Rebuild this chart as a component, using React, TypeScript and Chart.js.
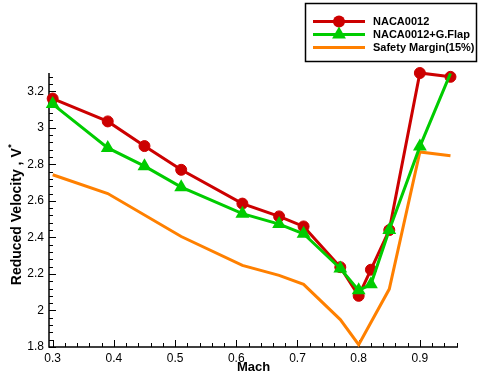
import React, { useEffect, useRef } from 'react';
import { Chart, registerables } from 'chart.js';

Chart.register(...registerables);

// ---- data ----
const machValues = [0.3, 0.39, 0.45, 0.51, 0.61, 0.67, 0.71, 0.77, 0.8, 0.82, 0.85, 0.9, 0.95];
const naca0012 = [3.16, 3.035, 2.9, 2.77, 2.585, 2.515, 2.46, 2.237, 2.08, 2.223, 2.44, 3.3, 3.279];
const nacaFlap = [3.13, 2.89, 2.79, 2.675, 2.53, 2.473, 2.42, 2.23, 2.11, 2.143, 2.44, 2.897, 3.298];
const safetyMach = [0.3, 0.39, 0.51, 0.61, 0.67, 0.71, 0.77, 0.8, 0.85, 0.9, 0.95];
const safetyMargin = [2.743, 2.64, 2.405, 2.247, 2.192, 2.143, 1.95, 1.813, 2.117, 2.868, 2.847];

const seriesNames = ['NACA0012', 'NACA0012+G.Flap', 'Safety Margin(15%)'];
const xTickLabels = [0.3, 0.4, 0.5, 0.6, 0.7, 0.8, 0.9];
const yTickLabels = [1.8, 2, 2.2, 2.4, 2.6, 2.8, 3, 3.2];
const xTitle = 'Mach';
const yTitle = 'Reduced Velocity , V';

const RED = '#cc0000';
const GREEN = '#00cc00';
const ORANGE = '#ff8000';
const FONT = '"Liberation Sans", Arial, Helvetica, sans-serif';

const decorPlugin = {
  id: 'decor',
  beforeDatasetsDraw(chart: any) {
    const ctx = chart.ctx;
    const { left, right, top, bottom } = chart.chartArea;
    const xs = chart.scales.x;
    const ys = chart.scales.y;
    ctx.save();
    ctx.strokeStyle = '#000';
    ctx.lineWidth = 1;
    for (let i = 0; ; i++) {
      const v = 0.3 + i * 0.02;
      if (v > xs.max + 1e-9) break;
      const px = Math.round(xs.getPixelForValue(v)) + 0.5;
      const major = xTickLabels.some((t) => Math.abs(t - v) < 1e-6);
      const len = major ? 7 : 4;
      ctx.beginPath();
      ctx.moveTo(px, bottom);
      ctx.lineTo(px, bottom - len);
      ctx.stroke();
    }
    for (let i = 0; ; i++) {
      const v = 1.8 + i * 0.04;
      if (v > ys.max + 1e-9) break;
      const py = Math.round(ys.getPixelForValue(v)) + 0.5;
      const major = yTickLabels.some((t) => Math.abs(t - v) < 1e-6);
      const len = major ? 7 : 4;
      ctx.beginPath();
      ctx.moveTo(left, py);
      ctx.lineTo(left + len, py);
      ctx.stroke();
    }
    ctx.lineWidth = 1.5;
    ctx.beginPath();
    ctx.moveTo(left, top);
    ctx.lineTo(left, bottom);
    ctx.lineTo(right, bottom);
    ctx.stroke();
    ctx.restore();
  },
  afterDraw(chart: any) {
    const ctx = chart.ctx;
    const { left, right } = chart.chartArea;
    ctx.save();
    ctx.fillStyle = '#000';
    ctx.font = 'bold 13px ' + FONT;
    ctx.textAlign = 'center';
    ctx.textBaseline = 'middle';
    ctx.fillText(xTitle, (left + right) / 2, 367);

    ctx.save();
    ctx.translate(17, 215);
    ctx.rotate(-Math.PI / 2);
    ctx.font = 'bold 14px ' + FONT;
    const w = ctx.measureText(yTitle).width;
    ctx.font = 'bold 9px ' + FONT;
    const sw = ctx.measureText('*').width;
    const total = w + sw;
    ctx.font = 'bold 14px ' + FONT;
    ctx.textAlign = 'left';
    ctx.fillText(yTitle, -total / 2, 0);
    ctx.font = 'bold 9px ' + FONT;
    ctx.fillText('*', -total / 2 + w + 0.5, -5);
    ctx.restore();

    ctx.strokeStyle = '#000';
    ctx.lineWidth = 1.5;
    ctx.strokeRect(305.5, 3.5, 171, 58);
    const rows = [21.5, 34.5, 47.5];
    const colors = [RED, GREEN, ORANGE];
    ctx.font = 'bold 11px ' + FONT;
    ctx.textAlign = 'left';
    ctx.textBaseline = 'middle';
    rows.forEach((y, i) => {
      ctx.strokeStyle = colors[i];
      ctx.lineWidth = 3;
      ctx.beginPath();
      ctx.moveTo(313, y);
      ctx.lineTo(365, y);
      ctx.stroke();
      ctx.fillStyle = colors[i];
      if (i === 0) {
        ctx.beginPath();
        ctx.arc(339, y, 6, 0, Math.PI * 2);
        ctx.fill();
      } else if (i === 1) {
        const r = 8;
        ctx.beginPath();
        ctx.moveTo(339, y - r);
        ctx.lineTo(339 + r * Math.sin((2 * Math.PI) / 3), y - r * Math.cos((2 * Math.PI) / 3));
        ctx.lineTo(339 + r * Math.sin((4 * Math.PI) / 3), y - r * Math.cos((4 * Math.PI) / 3));
        ctx.closePath();
        ctx.fill();
      }
      ctx.fillStyle = '#000';
      ctx.fillText(seriesNames[i], 373, y);
    });
    ctx.restore();
  },
};

export default function App() {
  const ref = useRef<HTMLCanvasElement>(null);
  useEffect(() => {
    if (!ref.current) return;
    const chart = new Chart(ref.current, {
      type: 'line',
      data: {
        datasets: [
          {
            label: seriesNames[0],
            data: machValues.map((m, i) => ({ x: m, y: naca0012[i] })),
            borderColor: RED,
            backgroundColor: RED,
            borderWidth: 3,
            pointStyle: 'circle',
            pointRadius: 5.5,
            pointBorderWidth: 1,
            pointBackgroundColor: RED,
            pointBorderColor: RED,
            clip: false as any,
            order: 1,
          },
          {
            label: seriesNames[1],
            data: machValues.map((m, i) => ({ x: m, y: nacaFlap[i] })),
            borderColor: GREEN,
            backgroundColor: GREEN,
            borderWidth: 3,
            pointStyle: 'triangle',
            pointRadius: machValues.map((_, i) => (i === machValues.length - 1 ? 0 : 8)),
            pointBorderWidth: 0,
            pointBackgroundColor: GREEN,
            pointBorderColor: GREEN,
            clip: false as any,
            order: 0,
          },
          {
            label: seriesNames[2],
            data: safetyMach.map((m, i) => ({ x: m, y: safetyMargin[i] })),
            borderColor: ORANGE,
            backgroundColor: ORANGE,
            borderWidth: 3,
            pointRadius: 0,
            clip: false as any,
            order: 2,
          },
        ],
      },
      options: {
        animation: false,
        responsive: false,
        maintainAspectRatio: false,
        layout: { padding: { top: 73, right: 23, left: 0, bottom: 0 } },
        plugins: { legend: { display: false }, tooltip: { enabled: false } },
        elements: { line: { tension: 0 } },
        scales: {
          x: {
            type: 'linear',
            min: 0.294,
            max: 0.9623,
            grid: { display: false, drawTicks: false },
            border: { display: false },
            afterBuildTicks: (scale: any) => {
              scale.ticks = xTickLabels.map((v) => ({ value: v }));
            },
            afterFit: (scale: any) => {
              scale.height = 31;
            },
            ticks: {
              padding: 4,
              color: '#000',
              font: { family: FONT, size: 12 },
              maxRotation: 0,
              autoSkip: false,
              callback: (v: any) => String(+Number(v).toFixed(2)),
            },
          },
          y: {
            type: 'linear',
            min: 1.8,
            max: 3.3,
            grid: { display: false, drawTicks: false },
            border: { display: false },
            afterBuildTicks: (scale: any) => {
              scale.ticks = yTickLabels.map((v) => ({ value: v }));
            },
            afterFit: (scale: any) => {
              scale.width = 49;
            },
            ticks: {
              padding: 5,
              color: '#000',
              font: { family: FONT, size: 12 },
              autoSkip: false,
              callback: (v: any) => String(+Number(v).toFixed(2)),
            },
          },
        },
      },
      plugins: [decorPlugin],
    });
    return () => chart.destroy();
  }, []);
  return (
    <div style={{ position: 'fixed', left: 0, top: 0, width: 481, height: 378, background: '#fff' }}>
      <canvas ref={ref} width={481} height={378} style={{ display: 'block', width: 481, height: 378 }} />
    </div>
  );
}
